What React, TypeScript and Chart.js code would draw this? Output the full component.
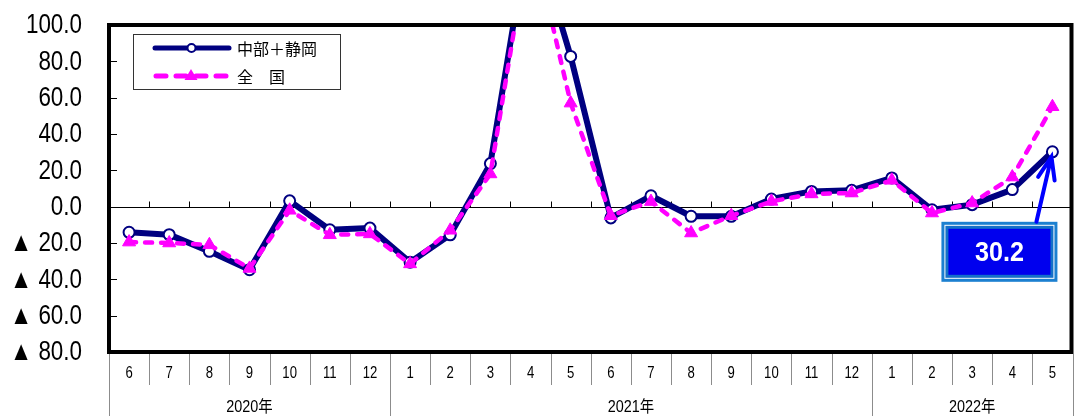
import React, { useEffect, useRef } from "react";
import { Chart, registerables } from "chart.js";

Chart.register(...registerables);

// Month labels along the category axis (Jun 2020 – May 2022)
const months = [
  "6", "7", "8", "9", "10", "11", "12",
  "1", "2", "3", "4", "5", "6", "7", "8", "9", "10", "11", "12",
  "1", "2", "3", "4", "5",
];

// Year groups shown on the second axis row
const yearLabels = ["2020年", "2021年", "2022年"];
const yearSpans = [7, 12, 5];

// Series values (year-on-year %, negatives shown with ▲)
const chubuShizuoka = [
  -14.1, -15.4, -24.6, -34.7, 3.2, -12.7, -11.8,
  -30.6, -15.5, 23.7, 157, 82.7, -6.2, 6.0, -5.3, -5.3, 4.2, 8.4, 9.0,
  15.8, -1.7, 1.1, 9.4, 30.2,
];
const zenkoku = [
  -19.5, -20.0, -21.0, -34.0, -2.0, -15.5, -15.0,
  -31.5, -13.0, 18.0, 152, 57.0, -5.0, 2.8, -14.5, -5.0, 2.9, 7.0, 7.5,
  14.5, -3.5, 2.0, 16.3, 55.0,
];

const seriesNames = ["中部＋静岡", "全　国"];

// Value axis
const yMin = -80;
const yMax = 100;
const yStep = 20;

const NAVY = "#000080";
const MAGENTA = "#FF00FF";
const LABEL_FONT = "'Liberation Sans', Arial, 'Noto Sans CJK JP', sans-serif";
const JP_FONT = "'Noto Sans CJK JP', 'Liberation Sans', sans-serif";

function yLabel(v: number): string {
  const s = Math.abs(v).toFixed(1);
  return v < 0 ? "▲ " + s : s;
}

function squeezedText(
  ctx: CanvasRenderingContext2D,
  text: string,
  x: number,
  y: number,
  sx: number,
  align: CanvasTextAlign
) {
  ctx.save();
  ctx.translate(x, y);
  ctx.scale(sx, 1);
  ctx.textAlign = align;
  ctx.fillText(text, 0, 0);
  ctx.restore();
}

const decorPlugin = {
  id: "decor",
  beforeDatasetsDraw(chart: any) {
    const { ctx, chartArea: a, scales } = chart;
    const x = scales.x;
    const y = scales.y;
    const n = months.length;
    const y0 = Math.round(y.getPixelForValue(0)) + 0.5;

    ctx.save();
    ctx.strokeStyle = "#000";
    ctx.lineWidth = 1;
    ctx.beginPath();
    ctx.moveTo(a.left, y0);
    ctx.lineTo(a.right, y0);
    // small tick marks on the zero line between categories
    for (let i = 1; i < n; i++) {
      const bx = Math.round((x.getPixelForValue(i - 1) + x.getPixelForValue(i)) / 2) + 0.5;
      ctx.moveTo(bx, y0);
      ctx.lineTo(bx, y0 - 6);
    }
    // inward ticks on the value axis
    for (let v = yMin + yStep; v < yMax; v += yStep) {
      const py = Math.round(y.getPixelForValue(v)) + 0.5;
      ctx.moveTo(a.left, py);
      ctx.lineTo(a.left + 8, py);
    }
    ctx.stroke();
    ctx.restore();
  },
  afterDatasetsDraw(chart: any) {
    const { ctx, chartArea: a, scales, height } = chart;
    const x = scales.x;
    const y = scales.y;
    const n = months.length;

    const boundary = (i: number) => {
      if (i <= 0) return a.left;
      if (i >= n) return a.right;
      return (x.getPixelForValue(i - 1) + x.getPixelForValue(i)) / 2;
    };

    ctx.save();

    // plot frame
    ctx.strokeStyle = "#000";
    ctx.lineWidth = 4;
    ctx.strokeRect(a.left, a.top, a.right - a.left - 1, a.bottom - a.top);

    // value axis labels
    ctx.fillStyle = "#000";
    ctx.textBaseline = "middle";
    ctx.font = `27px ${LABEL_FONT}`;
    for (let v = yMin; v <= yMax; v += yStep) {
      squeezedText(ctx, yLabel(v), 82, y.getPixelForValue(v) + 1, 0.83, "right");
    }

    // category table: month row and year row
    const yearStarts = new Set<number>([0, n]);
    let acc = 0;
    yearSpans.forEach((c) => {
      acc += c;
      yearStarts.add(acc);
    });
    ctx.strokeStyle = "#8c8c8c";
    ctx.lineWidth = 1;
    ctx.beginPath();
    for (let i = 0; i <= n; i++) {
      const bx = Math.round(boundary(i)) + 0.5;
      ctx.moveTo(bx, a.bottom + 2);
      ctx.lineTo(bx, yearStarts.has(i) ? height : a.bottom + 33);
    }
    ctx.stroke();

    ctx.fillStyle = "#000";
    ctx.font = `16px ${LABEL_FONT}`;
    months.forEach((m, i) => {
      squeezedText(ctx, m, x.getPixelForValue(i), a.bottom + 22, 0.82, "center");
    });
    let start = 0;
    yearLabels.forEach((lbl, k) => {
      const end = start + yearSpans[k];
      const cx = (boundary(start) + boundary(end)) / 2;
      squeezedText(ctx, lbl, cx, a.bottom + 56, 0.9, "center");
      start = end;
    });

    // legend
    ctx.strokeStyle = "#333";
    ctx.lineWidth = 1;
    ctx.strokeRect(133.5, 34.5, 207, 55);

    ctx.lineCap = "round";
    ctx.strokeStyle = NAVY;
    ctx.lineWidth = 5;
    ctx.beginPath();
    ctx.moveTo(155, 48);
    ctx.lineTo(229, 48);
    ctx.stroke();
    ctx.beginPath();
    ctx.arc(191.5, 48, 4, 0, Math.PI * 2);
    ctx.fillStyle = "#fff";
    ctx.fill();
    ctx.lineWidth = 2;
    ctx.stroke();

    ctx.strokeStyle = MAGENTA;
    ctx.lineWidth = 5;
    ctx.setLineDash([10, 10]);
    ctx.beginPath();
    ctx.moveTo(156, 76);
    ctx.lineTo(229, 76);
    ctx.stroke();
    ctx.setLineDash([]);
    ctx.fillStyle = MAGENTA;
    ctx.beginPath();
    ctx.moveTo(191, 69);
    ctx.lineTo(197.5, 80);
    ctx.lineTo(184.5, 80);
    ctx.closePath();
    ctx.fill();

    ctx.fillStyle = "#000";
    ctx.font = `16px ${JP_FONT}`;
    ctx.textAlign = "left";
    ctx.fillText(seriesNames[0], 237, 49);
    ctx.fillText(seriesNames[1], 237, 77);

    // callout for the latest value of the first series
    const meta = chart.getDatasetMeta(0);
    const last = meta.data[n - 1];
    const px = last.x;
    const py = last.y;
    const bx = px - 111;
    const by = py + 70;
    const bw = 116;
    const bh = 60;
    ctx.fillStyle = "#1C80D0";
    ctx.fillRect(bx, by, bw, bh);
    ctx.fillStyle = "#fff";
    ctx.fillRect(bx + 3, by + 3, bw - 6, bh - 6);
    ctx.fillStyle = "#1470C8";
    ctx.fillRect(bx + 4, by + 4, bw - 8, bh - 8);
    ctx.fillStyle = "#0000EE";
    ctx.fillRect(bx + 7, by + 7, bw - 14, bh - 14);
    ctx.fillStyle = "#fff";
    ctx.font = `bold 28px ${LABEL_FONT}`;
    ctx.textBaseline = "middle";
    squeezedText(ctx, chubuShizuoka[n - 1].toFixed(1), bx + bw / 2, by + bh / 2 + 1, 0.9, "center");

    // arrow from the callout to the point
    const tx = px - 1;
    const ty = py + 5;
    const sx = px - 16;
    const sy = by;
    ctx.strokeStyle = "#0000FF";
    ctx.lineWidth = 4;
    ctx.lineCap = "round";
    ctx.beginPath();
    ctx.moveTo(sx, sy);
    ctx.lineTo(tx, ty);
    const ang = Math.atan2(ty - sy, tx - sx);
    const hl = 24;
    const spread = 0.36;
    ctx.moveTo(tx - hl * Math.cos(ang - spread), ty - hl * Math.sin(ang - spread));
    ctx.lineTo(tx, ty);
    ctx.lineTo(tx - hl * Math.cos(ang + spread), ty - hl * Math.sin(ang + spread));
    ctx.stroke();

    ctx.restore();
  },
};

export default function App() {
  const canvasRef = useRef<HTMLCanvasElement | null>(null);

  useEffect(() => {
    const canvas = canvasRef.current;
    if (!canvas) return;
    const chart = new Chart(canvas, {
      type: "line",
      data: {
        labels: months,
        datasets: [
          {
            label: seriesNames[0],
            data: chubuShizuoka,
            borderColor: NAVY,
            borderWidth: 6,
            borderJoinStyle: "round",
            pointStyle: "circle",
            pointRadius: 5.5,
            pointBorderWidth: 2,
            pointBackgroundColor: "#fff",
            pointBorderColor: NAVY,
            tension: 0,
            clip: 0,
            order: 2,
          },
          {
            label: seriesNames[1],
            data: zenkoku,
            borderColor: MAGENTA,
            borderWidth: 4.5,
            borderDash: [7, 9],
            borderCapStyle: "round",
            borderJoinStyle: "round",
            pointStyle: "triangle",
            pointRadius: 7.5,
            pointBorderWidth: 1,
            pointBackgroundColor: MAGENTA,
            pointBorderColor: MAGENTA,
            tension: 0,
            clip: 0,
            order: 1,
          },
        ],
      },
      options: {
        responsive: false,
        animation: false,
        devicePixelRatio: 1,
        layout: { padding: { left: 109, top: 25, right: 2, bottom: 64 } },
        scales: {
          x: { type: "category", offset: true, display: false },
          y: { type: "linear", min: yMin, max: yMax, display: false },
        },
        plugins: {
          legend: { display: false },
          tooltip: { enabled: false },
        },
      },
      plugins: [decorPlugin],
    } as any);
    return () => chart.destroy();
  }, []);

  return (
    <div style={{ position: "fixed", left: 0, top: 0, width: 1081, height: 416, background: "#fff" }}>
      <canvas ref={canvasRef} width={1081} height={416} style={{ display: "block" }} />
    </div>
  );
}
